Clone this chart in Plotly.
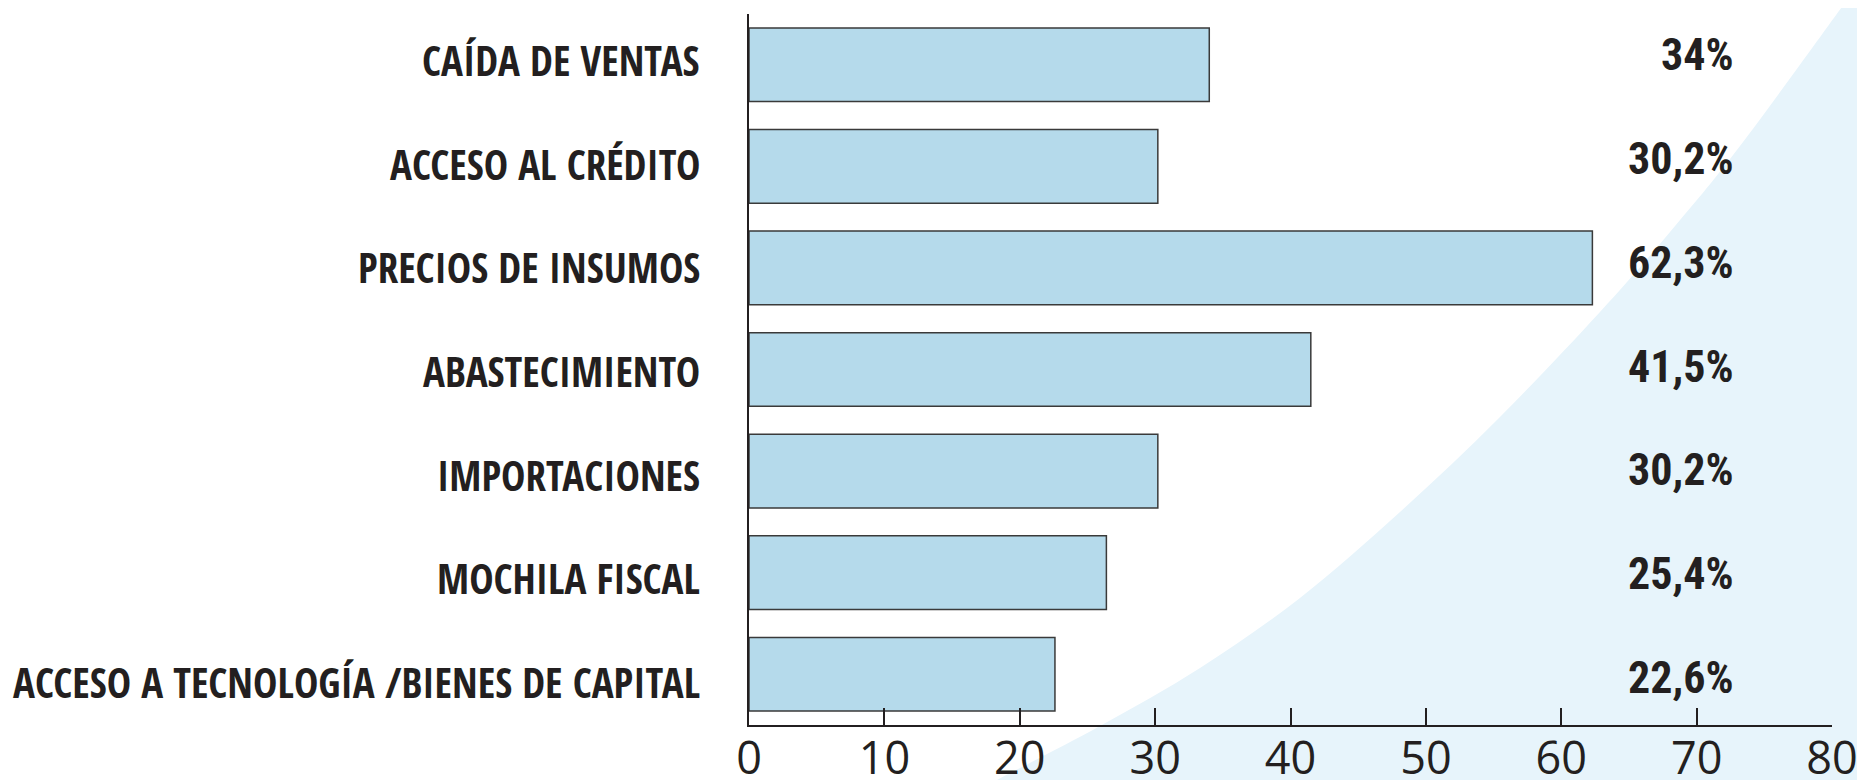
import plotly.graph_objects as go

# ---- data ----
categories = [
    "CAÍDA DE VENTAS",
    "ACCESO AL CRÉDITO",
    "PRECIOS DE INSUMOS",
    "ABASTECIMIENTO",
    "IMPORTACIONES",
    "MOCHILA FISCAL",
    "ACCESO A TECNOLOGÍA /BIENES DE CAPITAL",
]
values = [34.0, 30.2, 62.3, 41.5, 30.2, 26.4, 22.6]
value_labels = ["34%", "30,2%", "62,3%", "41,5%", "30,2%", "25,4%", "22,6%"]
x_ticks = [0, 10, 20, 30, 40, 50, 60, 70, 80]

# ---- layout geometry (page has an 8px body margin) ----
OFF = 8
W, H = 1865 - OFF, 780 - OFF
L, R, T, B = 749 - OFF, 33, 14 - OFF, 55
PW, PH = W - L - R, H - T - B

INK = "#231f20"
BAR_FILL = "#b5daeb"
BG_BLUE = "#e7f4fb"
CAT_FONT = "Open Sans Condensed, Roboto Condensed, DejaVu Sans Condensed, sans-serif"
VAL_FONT = "Roboto Condensed, Open Sans Condensed, DejaVu Sans Condensed, sans-serif"


def to_paper(px, py):
    """page pixel -> paper coordinates"""
    return (px - OFF - L) / PW, (H - B - (py - OFF)) / PH


# decorative background curve (page pixel positions), smoothed with Catmull-Rom
curve_px = [(1870, -32), (1847, 0), (1740, 146), (1670, 232), (1600, 312),
            (1500, 417), (1400, 512), (1300, 598), (1200, 668), (1100, 726),
            (997, 780), (960, 800)]
pts = [to_paper(x, y) for x, y in curve_px]
path = f"M {pts[0][0]:.5f},{pts[0][1]:.5f}"
for i in range(len(pts) - 1):
    p0 = pts[i - 1] if i > 0 else pts[i]
    p1 = pts[i]
    p2 = pts[i + 1]
    p3 = pts[i + 2] if i + 2 < len(pts) else pts[i + 1]
    c1 = (p1[0] + (p2[0] - p0[0]) / 6, p1[1] + (p2[1] - p0[1]) / 6)
    c2 = (p2[0] - (p3[0] - p1[0]) / 6, p2[1] - (p3[1] - p1[1]) / 6)
    path += f" C {c1[0]:.5f},{c1[1]:.5f} {c2[0]:.5f},{c2[1]:.5f} {p2[0]:.5f},{p2[1]:.5f}"
e1 = to_paper(1900, 800)
e2 = to_paper(1900, -32)
path += f" L {e1[0]:.5f},{e1[1]:.5f} L {e2[0]:.5f},{e2[1]:.5f} Z"

fig = go.Figure()
fig.add_trace(go.Bar(
    x=values,
    y=categories,
    orientation="h",
    width=0.725,
    marker=dict(color=BAR_FILL, line=dict(color="#3a3a3a", width=1.5)),
    hoverinfo="x+y",
))

annotations = []
n = len(categories)
label_x = -47 / PW  # category labels end 47px left of the axis
for i, (cat, lab) in enumerate(zip(categories, value_labels)):
    # category label
    annotations.append(dict(
        x=label_x, y=cat, xref="paper", yref="y", text=cat, showarrow=False,
        xanchor="right", yanchor="middle",
        yshift=4.5 - 12.0 * i / (n - 1),
        font=dict(family=CAT_FONT, size=41, color=INK, weight="bold"),
    ))
    # value label
    annotations.append(dict(
        x=72.9, y=cat, xref="x", yref="y", text=lab, showarrow=False,
        xanchor="right", yanchor="middle",
        yshift=9.5 - 13.0 * i / (n - 1),
        font=dict(family=VAL_FONT, size=44, color=INK, weight="bold"),
    ))

fig.update_layout(
    width=W, height=H,
    margin=dict(l=L, r=R, t=T, b=B, pad=0),
    paper_bgcolor="white",
    plot_bgcolor="rgba(0,0,0,0)",
    showlegend=False,
    annotations=annotations,
    shapes=[dict(type="path", path=path, xref="paper", yref="paper",
                 fillcolor=BG_BLUE, line=dict(width=0), layer="below")],
    xaxis=dict(
        range=[0, 80], tickvals=x_ticks, ticktext=[str(t) for t in x_ticks],
        automargin=False,
        showgrid=False, zeroline=False, showline=True, linecolor=INK, linewidth=2,
        ticks="inside", ticklen=17, tickwidth=2, tickcolor=INK,
        ticklabelstandoff=-7,
        tickfont=dict(family="Open Sans, sans-serif", size=45, color=INK),
        fixedrange=True,
    ),
    yaxis=dict(
        type="category", categoryorder="array", categoryarray=categories,
        range=[6.5, -0.5], automargin=False,
        showgrid=False, zeroline=False, showline=True, linecolor=INK, linewidth=2,
        ticks="", showticklabels=False,
        fixedrange=True,
    ),
)

fig.write_html("out.html")
